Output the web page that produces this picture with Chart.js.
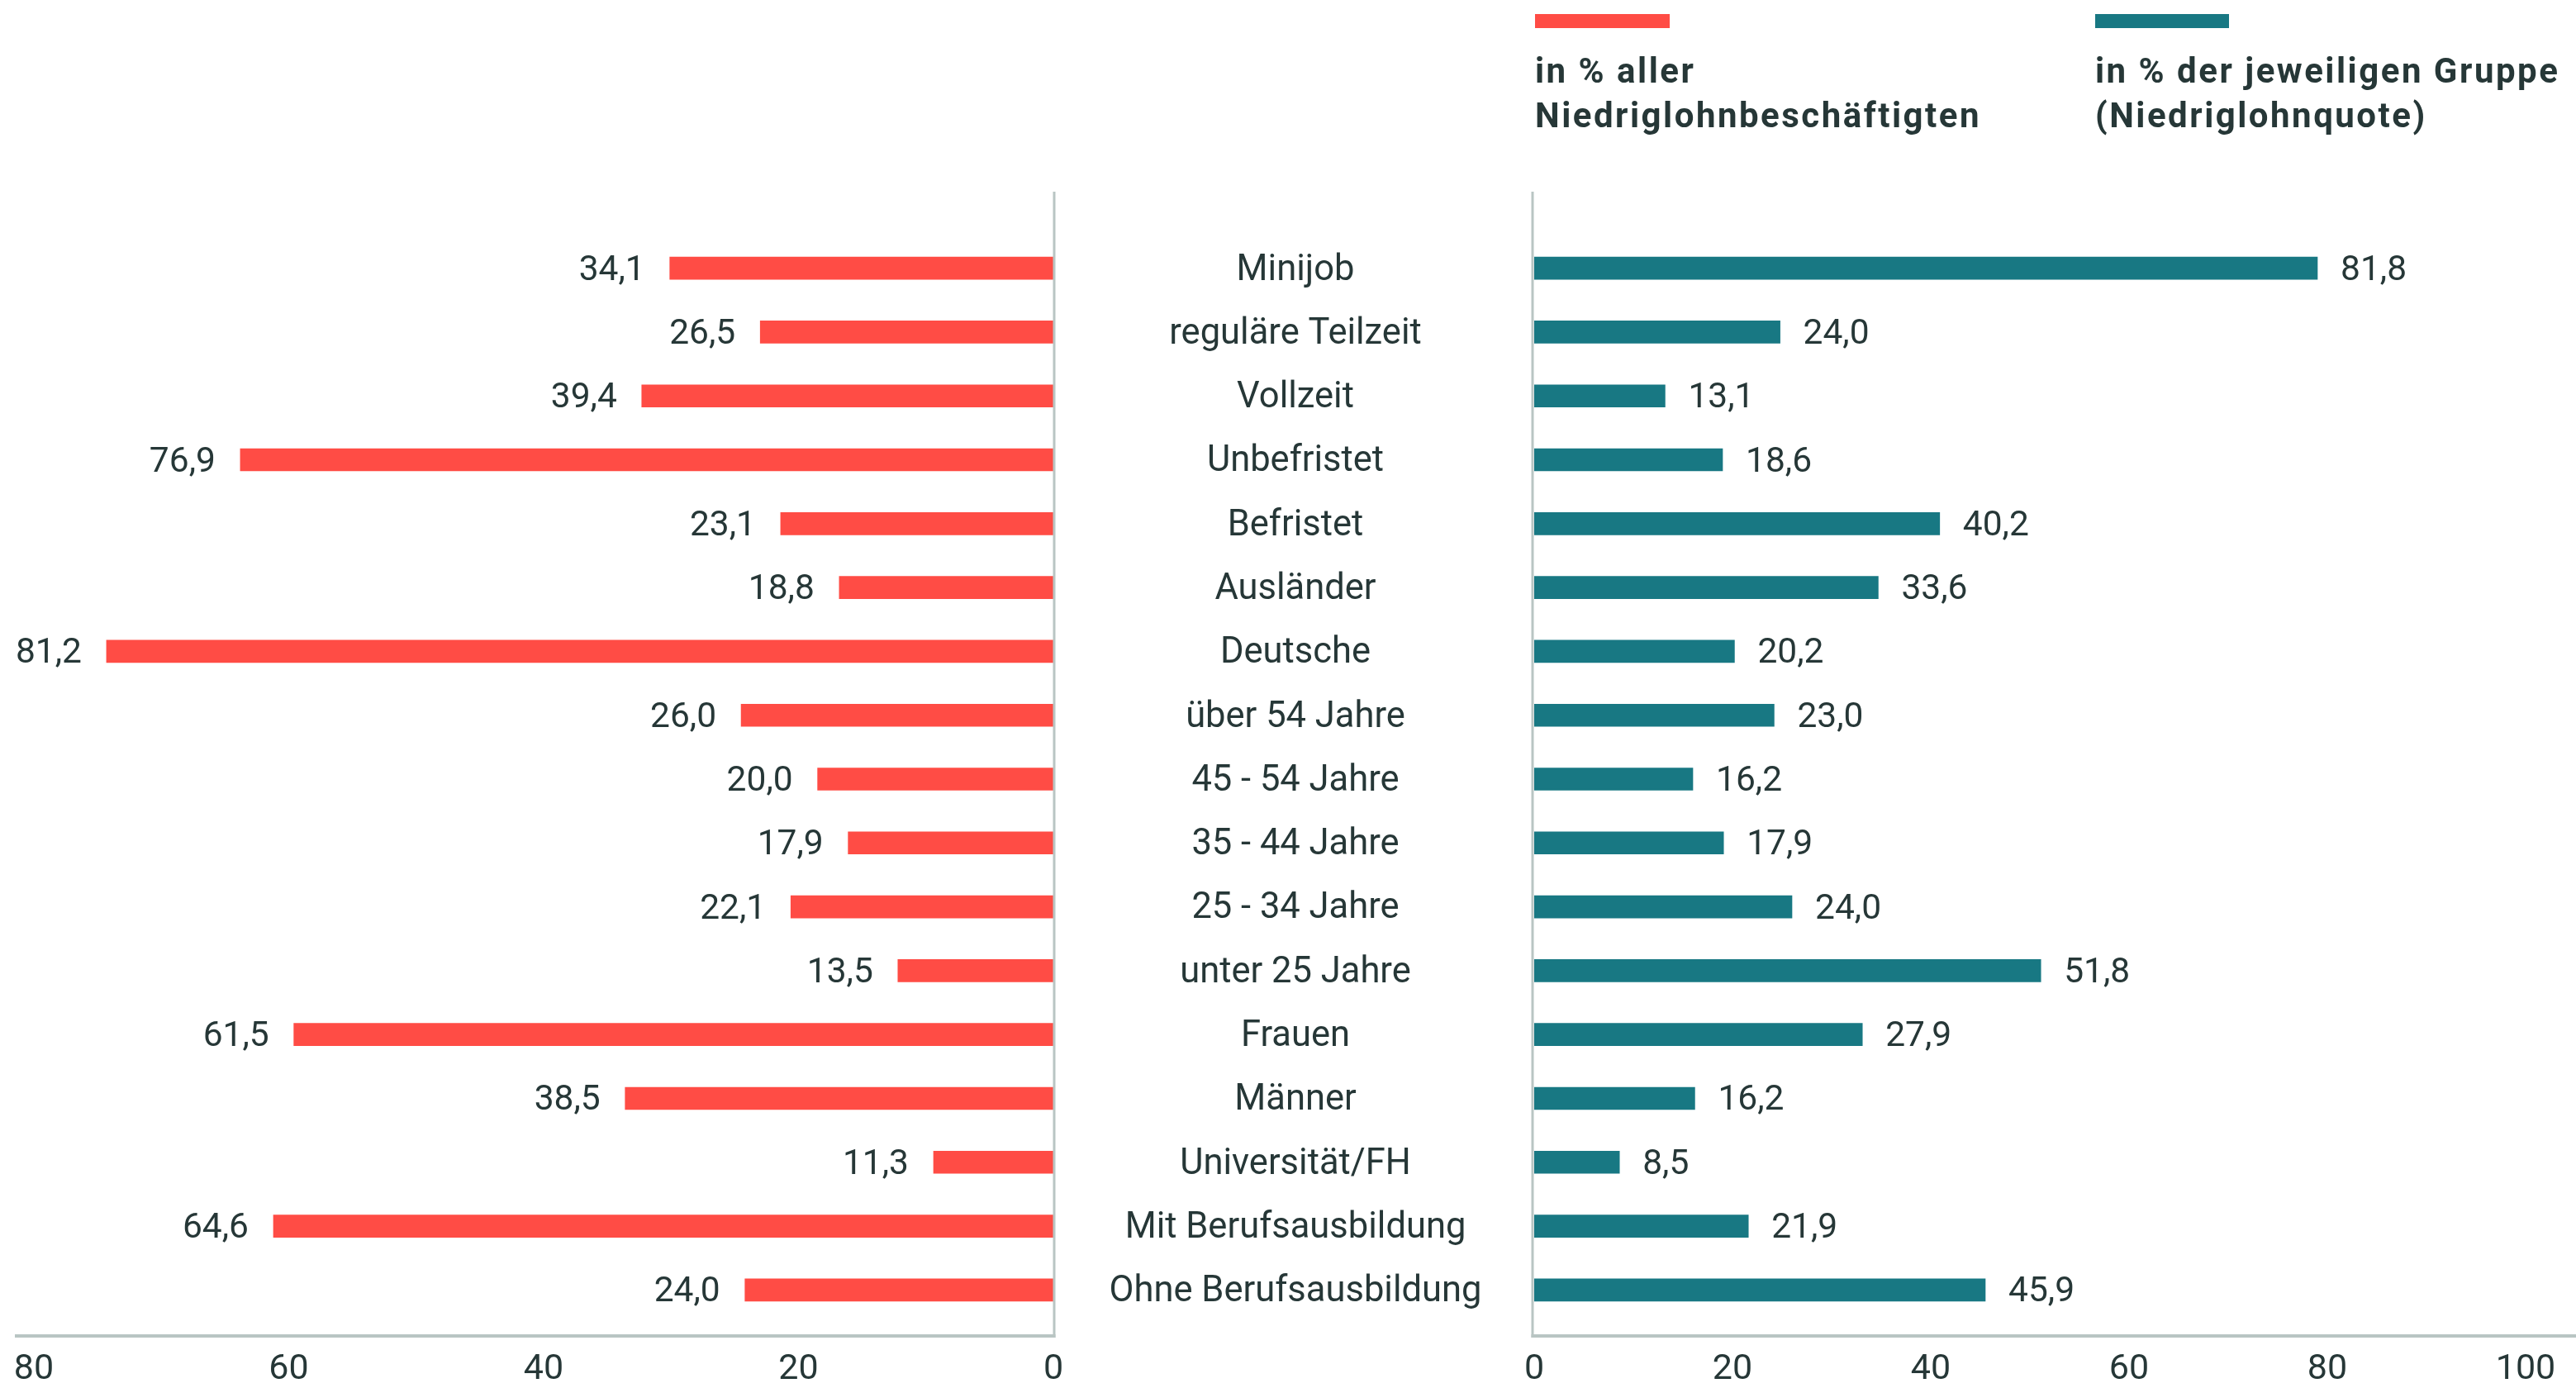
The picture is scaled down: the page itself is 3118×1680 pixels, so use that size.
<!DOCTYPE html>
<html lang="de">
<head>
<meta charset="utf-8">
<title>Niedriglohnbeschäftigte</title>
<script src="https://cdn.jsdelivr.net/npm/chart.js@4.4.1/dist/chart.umd.min.js"></script>
<style>
  html, body { margin: 0; padding: 0; background: #ffffff; }
  body { width: 3118px; height: 1680px; position: relative; overflow: hidden; font-family: Roboto, sans-serif; }
  #leftWrap { position: absolute; left: 0; top: 0; width: 1300px; height: 1680px; }
  #rightWrap { position: absolute; left: 1300px; top: 0; width: 1818px; height: 1680px; }
  .swatch { position: absolute; top: 17px; height: 17px; }
  .legText { position: absolute; top: 59px; font: bold 42px Roboto, sans-serif; letter-spacing: 2.5px; line-height: 54px; color: #263737; white-space: nowrap; }
</style>
</head>
<body>
<div id="leftWrap"><canvas id="leftChart" width="1300" height="1680"></canvas></div>
<div id="rightWrap"><canvas id="rightChart" width="1818" height="1680"></canvas></div>

<div class="swatch" style="left:1858px;width:163px;background:#FF4C45"></div>
<div class="legText" style="left:1858px">in % aller<br>Niedriglohnbeschäftigten</div>
<div class="swatch" style="left:2536px;width:162px;background:#187883"></div>
<div class="legText" style="left:2536px">in % der jeweiligen Gruppe<br>(Niedriglohnquote)</div>

<script>
// ---------- data ----------
const categories = [
  "Minijob", "reguläre Teilzeit", "Vollzeit", "Unbefristet", "Befristet",
  "Ausländer", "Deutsche", "über 54 Jahre", "45 - 54 Jahre", "35 - 44 Jahre",
  "25 - 34 Jahre", "unter 25 Jahre", "Frauen", "Männer", "Universität/FH",
  "Mit Berufsausbildung", "Ohne Berufsausbildung"
];
// printed value labels
const shareAllLabels = [34.1, 26.5, 39.4, 76.9, 23.1, 18.8, 81.2, 26.0, 20.0, 17.9, 22.1, 13.5, 61.5, 38.5, 11.3, 64.6, 24.0];
const quoteLabels    = [81.8, 24.0, 13.1, 18.6, 40.2, 33.6, 20.2, 23.0, 16.2, 17.9, 24.0, 51.8, 27.9, 16.2, 8.5, 21.9, 45.9];
// bar lengths as drawn in the picture (read against the axes)
const shareAllBars = [30.1, 23.0, 32.3, 63.8, 21.4, 16.8, 74.3, 24.5, 18.5, 16.1, 20.6, 12.2, 59.6, 33.6, 9.4, 61.2, 24.2];
const quoteBars    = [79.0, 24.8, 13.2, 19.0, 40.9, 34.7, 20.2, 24.2, 16.0, 19.1, 26.0, 51.1, 33.1, 16.2, 8.6, 21.6, 45.5];
const leftTicks  = [0, 20, 40, 60, 80];
const rightTicks = [0, 20, 40, 60, 80, 100];

// ---------- styles ----------
const RED = "#FF4C45";
const TEAL = "#187883";
const TEXT = "#263737";
const AXIS = "#B9C5C3";
const TICK_FONT = { family: "Roboto", size: 43, lineHeight: 1.2 };
const CAT_FONT = { family: "Roboto", size: 43.5, lineHeight: 1.2 };

const fmt = v => v.toFixed(1).replace(".", ",");

const valueLabels = {
  id: "valueLabels",
  afterDatasetsDraw(chart, args, opts) {
    const ctx = chart.ctx;
    const meta = chart.getDatasetMeta(0);
    ctx.save();
    ctx.font = "42.5px Roboto";
    ctx.fillStyle = TEXT;
    ctx.textBaseline = "alphabetic";
    meta.data.forEach((bar, i) => {
      const txt = fmt(opts.labels[i]);
      if (opts.side === "left") {
        ctx.textAlign = "right";
        ctx.fillText(txt, bar.x - 30, bar.y + 14);
      } else {
        ctx.textAlign = "left";
        ctx.fillText(txt, bar.x + 28, bar.y + 14);
      }
    });
    ctx.restore();
  }
};

const axisLines = {
  id: "axisLines",
  afterDraw(chart, args, opts) {
    const ctx = chart.ctx;
    const a = chart.chartArea;
    const top = 232;
    const yLine = a.bottom + 17;
    ctx.save();
    ctx.strokeStyle = AXIS;
    if (opts.side === "left") {
      ctx.lineWidth = 3;
      ctx.beginPath(); ctx.moveTo(a.right + 1, top); ctx.lineTo(a.right + 1, yLine + 2); ctx.stroke();
      ctx.lineWidth = 4;
      ctx.beginPath(); ctx.moveTo(18, yLine); ctx.lineTo(a.right + 2.5, yLine); ctx.stroke();
    } else {
      ctx.lineWidth = 3;
      ctx.beginPath(); ctx.moveTo(a.left - 2, top); ctx.lineTo(a.left - 2, yLine + 2); ctx.stroke();
      ctx.lineWidth = 4;
      ctx.beginPath(); ctx.moveTo(a.left - 3.5, yLine); ctx.lineTo(chart.width, yLine); ctx.stroke();
    }
    ctx.restore();
  }
};

// width of the widest category label (for centering the middle column)
const mctx = document.createElement("canvas").getContext("2d");
mctx.font = "43.5px Roboto";
const widest = Math.max(...categories.map(c => mctx.measureText(c).width));
const Y_AXIS_WIDTH = 557;         // from right canvas left edge to bar baseline
const LABEL_CENTER_OFFSET = 289;  // distance from bar baseline to label centre
const catPadding = LABEL_CENTER_OFFSET - widest / 2;

function xScale(ticks, reverse) {
  return {
    type: "linear",
    reverse: reverse,
    min: ticks[0],
    max: ticks[ticks.length - 1],
    afterBuildTicks(scale) { scale.ticks = ticks.map(v => ({ value: v })); },
    ticks: { font: TICK_FONT, color: TEXT, padding: 32, autoSkip: false, maxRotation: 0 },
    grid: { display: false, drawTicks: false },
    border: { display: false },
    afterFit(scale) { scale.height = 80; scale.paddingLeft = 0; scale.paddingRight = 0; }
  };
}

new Chart(document.getElementById("leftChart"), {
  type: "bar",
  data: {
    labels: categories,
    datasets: [{ data: shareAllBars, backgroundColor: RED, barThickness: 27, borderWidth: 0 }]
  },
  options: {
    indexAxis: "y",
    responsive: false,
    animation: false,
    devicePixelRatio: 1,
    layout: { padding: { left: 41, right: 25, top: 286, bottom: 0 } },
    scales: {
      x: xScale(leftTicks, true),
      y: { type: "category", display: false }
    },
    plugins: {
      legend: { display: false },
      tooltip: { enabled: false },
      valueLabels: { side: "left", labels: shareAllLabels },
      axisLines: { side: "left" }
    }
  },
  plugins: [valueLabels, axisLines]
});

new Chart(document.getElementById("rightChart"), {
  type: "bar",
  data: {
    labels: categories,
    datasets: [{ data: quoteBars, backgroundColor: TEAL, barThickness: 27, borderWidth: 0 }]
  },
  options: {
    indexAxis: "y",
    responsive: false,
    animation: false,
    devicePixelRatio: 1,
    layout: { padding: { left: 0, right: 61, top: 286, bottom: 0 } },
    scales: {
      x: xScale(rightTicks, false),
      y: {
        type: "category",
        position: "left",
        ticks: { font: CAT_FONT, color: TEXT, crossAlign: "center", padding: catPadding, labelOffset: 3, autoSkip: false },
        grid: { display: false, drawTicks: false },
        border: { display: false },
        afterFit(scale) { scale.width = Y_AXIS_WIDTH; scale.paddingTop = 0; scale.paddingBottom = 0; }
      }
    },
    plugins: {
      legend: { display: false },
      tooltip: { enabled: false },
      valueLabels: { side: "right", labels: quoteLabels },
      axisLines: { side: "right" }
    }
  },
  plugins: [valueLabels, axisLines]
});
</script>
</body>
</html>
